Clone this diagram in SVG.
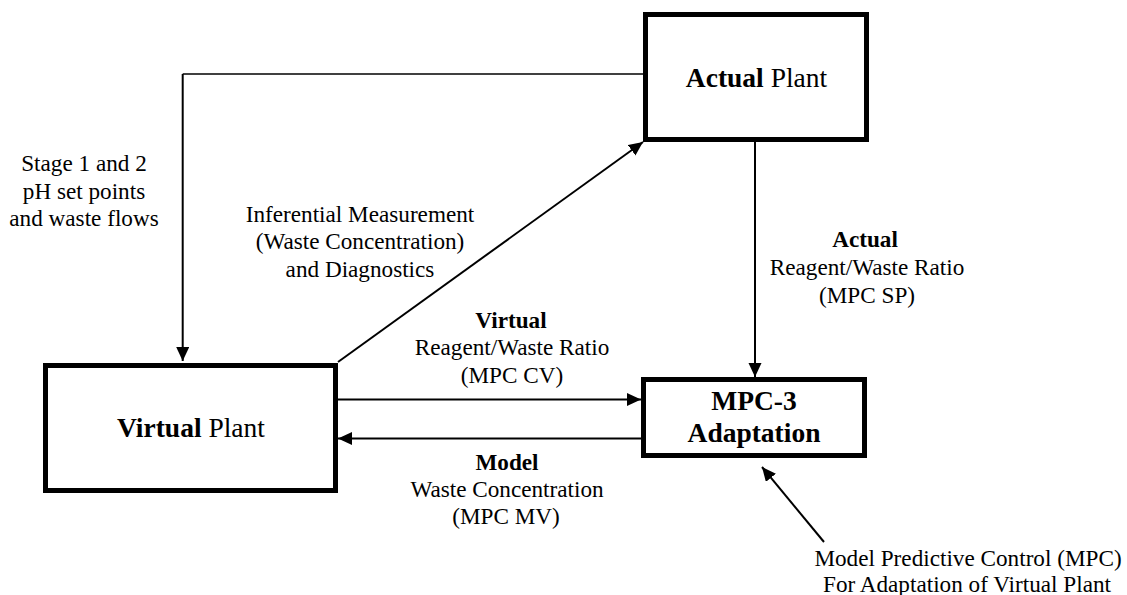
<svg xmlns="http://www.w3.org/2000/svg" width="1127" height="595" viewBox="0 0 1127 595">
<style>
text { font-family: "Liberation Serif", "Times New Roman", serif; fill: #000; }
.box { fill: #fff; stroke: #000; stroke-width: 5; }
.big { font-size: 27.5px; text-anchor: middle; }
.lbl { font-size: 23.2px; text-anchor: middle; }
.b { font-weight: bold; }
.conn { fill: none; stroke: #000; stroke-width: 2; }
.thin { stroke-width: 1.3; }
</style>
<defs>
<marker id="arr" markerUnits="userSpaceOnUse" markerWidth="15" markerHeight="14" refX="14" refY="6.5" orient="auto">
<path d="M0,0 L14,6.5 L0,13 z" fill="#000"/>
</marker>
</defs>
<rect width="1127" height="595" fill="#fff"/>
<g id="connectors">
<path class="conn thin" d="M643,74 H182.7"/>
<path class="conn" d="M182.7,74 V361" marker-end="url(#arr)"/>
<path class="conn" d="M338,362 L643,142" marker-end="url(#arr)"/>
<path class="conn" d="M755,142 V377" marker-end="url(#arr)"/>
<path class="conn" d="M338,399.5 H641" marker-end="url(#arr)"/>
<path class="conn" d="M641,438.5 H338" marker-end="url(#arr)"/>
<path class="conn" d="M824,542 L762,467" marker-end="url(#arr)"/>
</g>
<g id="actual-plant">
<rect class="box" x="645.5" y="14.5" width="221" height="125"/>
<text class="big" x="756.5" y="87"><tspan class="b">Actual</tspan> Plant</text>
</g>
<g id="virtual-plant">
<rect class="box" x="45.5" y="365.5" width="290" height="125"/>
<text class="big" x="191" y="437"><tspan class="b">Virtual</tspan> Plant</text>
</g>
<g id="mpc3">
<rect class="box" x="643.5" y="379.5" width="221" height="76"/>
<text class="big b" x="754" y="410">MPC-3</text>
<text class="big b" x="754" y="442">Adaptation</text>
</g>
<g id="labels">
<text class="lbl" x="84" y="171">Stage 1 and 2</text>
<text class="lbl" x="84" y="199">pH set points</text>
<text class="lbl" x="84" y="226">and waste flows</text>
<text class="lbl" x="360" y="222">Inferential Measurement</text>
<text class="lbl" x="360" y="249">(Waste Concentration)</text>
<text class="lbl" x="360" y="277">and Diagnostics</text>
<text class="lbl b" x="865" y="247">Actual</text>
<text class="lbl" x="867" y="275">Reagent/Waste Ratio</text>
<text class="lbl" x="867" y="303">(MPC SP)</text>
<text class="lbl b" x="511" y="328">Virtual</text>
<text class="lbl" x="512" y="355">Reagent/Waste Ratio</text>
<text class="lbl" x="512" y="383">(MPC CV)</text>
<text class="lbl b" x="507" y="470">Model</text>
<text class="lbl" x="507" y="497">Waste Concentration</text>
<text class="lbl" x="506" y="524">(MPC MV)</text>
<text class="lbl" x="968" y="566">Model Predictive Control (MPC)</text>
<text class="lbl" x="967" y="592">For Adaptation of Virtual Plant</text>
</g>
</svg>
